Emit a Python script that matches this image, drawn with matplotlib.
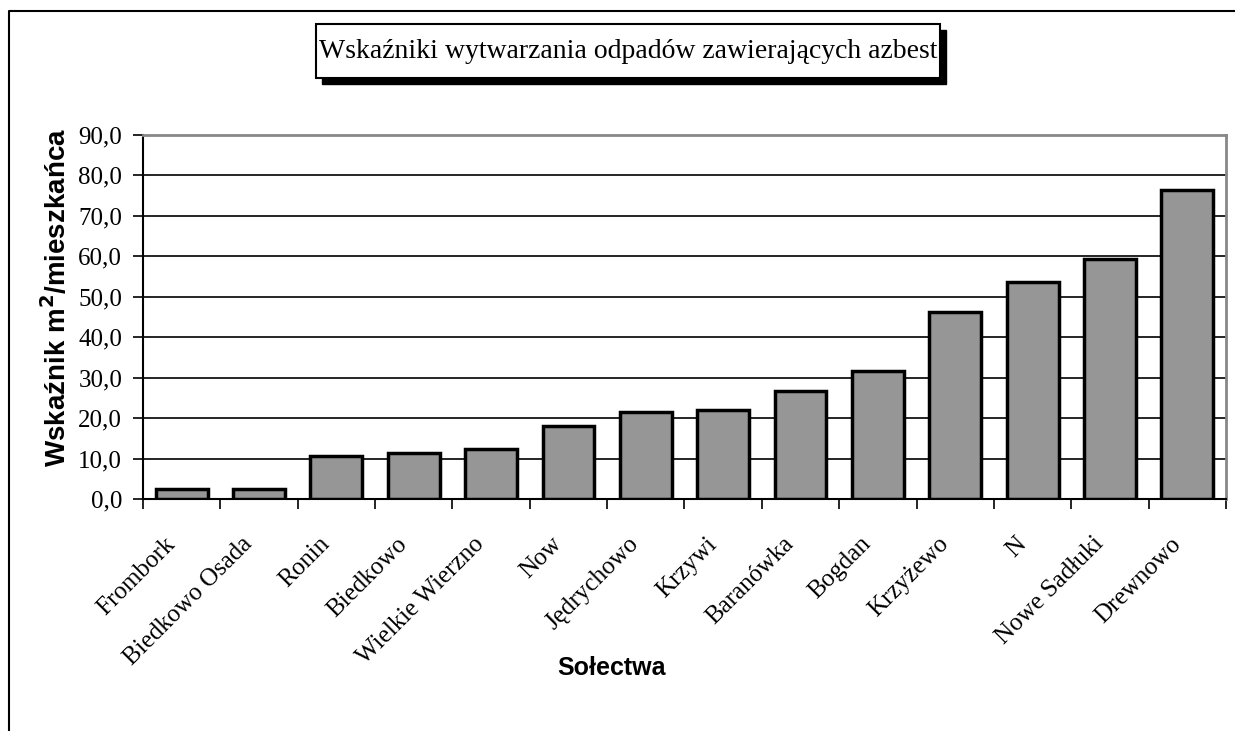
import matplotlib.pyplot as plt
from matplotlib.patches import Rectangle
from matplotlib.lines import Line2D
from matplotlib.transforms import ScaledTranslation

# Sołectwa i wskaźniki (m2 na mieszkańca)
solectwa = ["Frombork", "Biedkowo Osada", "Ronin", "Biedkowo", "Wielkie Wierzno",
            "Now", "Jędrychowo", "Krzywi", "Baranówka", "Bogdan",
            "Krzyżewo", "N", "Nowe Sadłuki", "Drewnowo"]
wskaznik = [2.5, 2.5, 10.6, 11.4, 12.4, 18.0, 21.5, 22.0, 26.7, 31.6,
            46.2, 53.7, 59.3, 76.4]
y_ticks = [0, 10, 20, 30, 40, 50, 60, 70, 80, 90]

W, H = 1235, 731
serif = ["Liberation Serif", "DejaVu Serif"]
sans = ["Liberation Sans", "DejaVu Sans"]

fig = plt.figure(figsize=(W / 100, H / 100), dpi=100)
ax = fig.add_axes([143 / W, 1 - 499 / H, (1226 - 143) / W, (499 - 135) / H])

x = list(range(len(solectwa)))
ax.bar(x, wskaznik, width=0.67, color="#969696", edgecolor="black",
       linewidth=2.5, zorder=3)

ax.set_xlim(-0.5, len(solectwa) - 0.5)
ax.set_ylim(0, 90)
ax.set_yticks(y_ticks)
ax.set_yticklabels([f"{v:.1f}".replace(".", ",") for v in y_ticks],
                   family=serif, fontsize=18)
ax.yaxis.grid(True, color="black", linewidth=1.2, zorder=0)
ax.tick_params(axis="y", direction="out", length=7, width=1.2, pad=8)

# etykiety kategorii w środkach, kreski na granicach
ax.set_xticks(x)
ax.set_xticklabels(solectwa, family=serif, fontsize=18, rotation=45,
                   ha="right", va="center", rotation_mode="anchor")
ax.set_xticks([i - 0.5 for i in range(len(solectwa) + 1)], minor=True)
ax.tick_params(axis="x", which="major", length=0, pad=30)
ax.tick_params(axis="x", which="minor", direction="out", length=7, width=1.2)
shift = ScaledTranslation(-10 / 100, 0, fig.dpi_scale_trans)
for lbl in ax.get_xticklabels():
    lbl.set_transform(lbl.get_transform() + shift)

for s in ["top", "right"]:
    ax.spines[s].set_color("#888888")
    ax.spines[s].set_linewidth(2)
for s in ["left", "bottom"]:
    ax.spines[s].set_color("black")
    ax.spines[s].set_linewidth(1.5)

ax.set_ylabel("Wskaźnik m$^\\mathbf{2}$/mieszkańca", family=sans,
              fontweight="bold", fontsize=20)
ax.yaxis.set_label_coords(-0.066, 0.555)
ax.set_xlabel("Sołectwa", family=sans, fontweight="bold", fontsize=18)
ax.xaxis.set_label_coords(0.433, -0.43)

# ramka wykresu (lewa i górna krawędź)
fig.add_artist(Line2D([9 / W, 9 / W, 1], [0, 1 - 11 / H, 1 - 11 / H],
                      color="black", linewidth=1.5, transform=fig.transFigure))

# tytuł w ramce z cieniem
bx0, bx1, by0, by1 = 316, 940, 24, 78
sh = 6
fig.add_artist(Rectangle(((bx0 + sh) / W, 1 - (by1 + sh) / H), (bx1 - bx0) / W,
                         (by1 - by0) / H, transform=fig.transFigure,
                         facecolor="black", edgecolor="black"))
fig.add_artist(Rectangle((bx0 / W, 1 - by1 / H), (bx1 - bx0) / W,
                         (by1 - by0) / H, transform=fig.transFigure,
                         facecolor="white", edgecolor="black", linewidth=1.5))
fig.text((bx0 + bx1) / 2 / W, 1 - (by0 + by1) / 2 / H,
         "Wskaźniki wytwarzania odpadów zawierających azbest",
         family=serif, fontsize=20, ha="center", va="center")

fig.savefig("out.png", dpi=100)
